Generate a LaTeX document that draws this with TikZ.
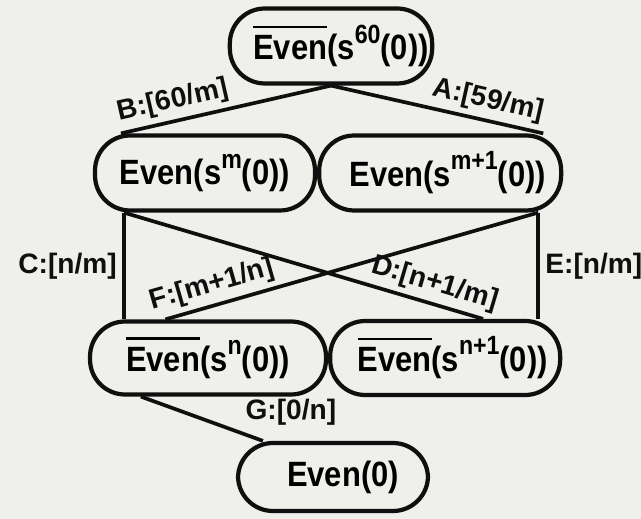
\documentclass[tikz,border=0pt]{standalone}
\usepackage{fontspec}
\newfontfamily\boxfont{Liberation Sans}[FakeStretch=0.88]
\newfontfamily\tagfont{Liberation Sans}
\usetikzlibrary{positioning, calc}
\definecolor{paper}{RGB}{239,239,236}
\definecolor{ink}{RGB}{15,15,15}
\tikzset{
    evbox/.style={draw=ink, line width=2.4pt, rounded corners=0.7cm, minimum height=1.5cm, inner sep=2pt, font=\boxfont\bfseries\fontsize{20}{24}\selectfont},
    tag/.style={font=\tagfont\bfseries\fontsize{16}{19}\selectfont, text=ink, inner sep=3pt},
    link/.style={draw=ink, line width=2.1pt},
}
\newcommand{\barEven}{\setbox0=\hbox{Even}\rlap{\rule[0.9em]{\wd0}{1.5pt}}\box0}
\newcommand{\hi}[1]{\raisebox{0.48em}{\fontsize{15}{15}\selectfont #1}}

\begin{document}
\begin{tikzpicture}[x=0.02cm, y=-0.02cm]
\fill[paper] (0,0) rectangle (641,519);
\useasboundingbox (0,0) rectangle (641,519);

% the six goal boxes
\node[evbox, minimum width=3.72cm] (top) at (331,46) {\hspace{0.4cm}\barEven(s\hi{60}(0))};
\node[evbox, minimum width=4.4cm] (lm) at (205,173) {Even(s\hi{m}(0))\hspace{0.6cm}};
\node[evbox, minimum width=4.84cm, right=0cm of lm] (rm) {\hspace{0.3cm}Even(s\hi{m+1}(0))};
\node[evbox, minimum width=4.72cm, minimum height=1.46cm] (bl) at (208,358) {\barEven(s\hi{n}(0))\hspace{0.7cm}};
\node[evbox, minimum width=4.6cm, minimum height=1.48cm, right=0cm of bl] (br) {\hspace{0.3cm}\barEven(s\hi{n+1}(0))};
\node[evbox, minimum width=3.8cm, minimum height=1.36cm] (bot) at (333,477) {\hspace{0.4cm}Even(0)};

\coordinate (cl) at ([xshift=0.62cm]lm.south west);
\coordinate (cr) at ([xshift=-0.5cm]rm.south east);

% resolution links
\draw[link] (top.south) -- node[tag, sloped, above, pos=0.73] {B:[60/m]} ([xshift=0.56cm]lm.north west);
\draw[link] (top.south) -- node[tag, sloped, above, pos=0.72] {A:[59/m]} ([xshift=-0.4cm]rm.north east);
\draw[link] (cl) -- node[tag, left] {C:[n/m]} (cl |- bl.north);
\draw[link] (cr) -- node[tag, right] {E:[n/m]} (cr |- br.north);
\draw[link] (cl) -- node[tag, sloped, above, pos=0.85] {D:[n+1/m]} ([xshift=3.1cm]br.north west);
\draw[link] (cr) -- node[tag, sloped, above, pos=0.86] {F:[m+1/n]} ([xshift=1.55cm]bl.north west);
\draw[link] ([xshift=1.06cm]bl.south west) -- node[tag, above right, pos=0.8] {G:[0/n]} ([xshift=0.54cm]bot.north west);
\end{tikzpicture}
\end{document}
